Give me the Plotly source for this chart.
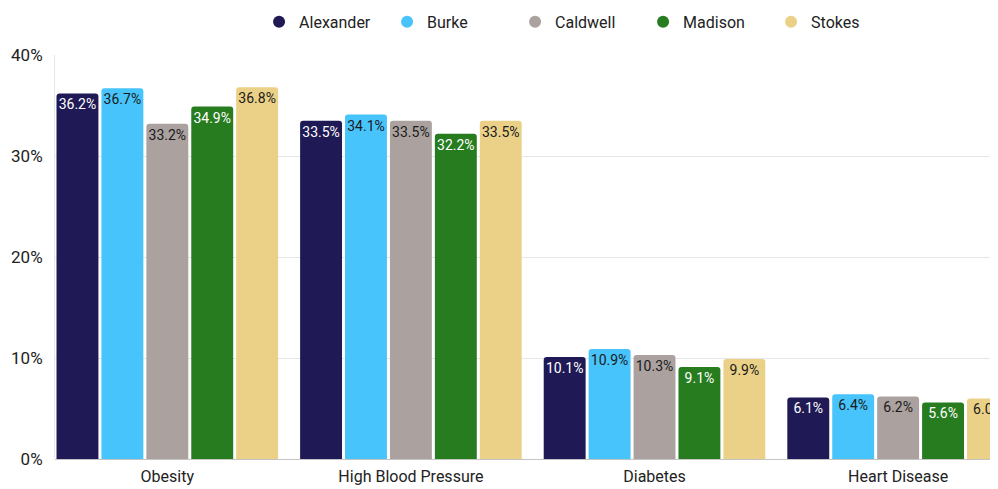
import plotly.graph_objects as go

categories = ["Obesity", "High Blood Pressure", "Diabetes", "Heart Disease"]
series_names = ["Alexander", "Burke", "Caldwell", "Madison", "Stokes"]
alexander = [36.2, 33.5, 10.1, 6.1]
burke = [36.7, 34.1, 10.9, 6.4]
caldwell = [33.2, 33.5, 10.3, 6.2]
madison = [34.9, 32.2, 9.1, 5.6]
stokes = [36.8, 33.5, 9.9, 6.0]
y_ticks = [0, 10, 20, 30, 40]
y_tick_labels = ["0%", "10%", "20%", "30%", "40%"]

values = [alexander, burke, caldwell, madison, stokes]
colors = ["#1f1a55", "#48c4fc", "#aba29f", "#267c1f", "#ebd187"]
text_colors = ["#ffffff", "#1a1a1a", "#1a1a1a", "#ffffff", "#1a1a1a"]

FONT = "Roboto, Liberation Sans, sans-serif"

def f(size, color="#222222"):
    return dict(family=FONT, size=size, color=color)

fig = go.Figure()
xs = list(range(len(categories)))
for name, vals, c, tc in zip(series_names, values, colors, text_colors):
    fig.add_trace(go.Bar(
        name=name, x=xs, y=vals,
        marker=dict(color=c, line=dict(width=0)),
        text=[f"{v:.1f}%" for v in vals],
        textposition="inside", insidetextanchor="end",
        textangle=0, constraintext="none",
        textfont=f(14, tc),
        cliponaxis=True, showlegend=False,
        hovertemplate="%{y:.1f}%<extra>" + name + "</extra>",
    ))
# legend entries with circular markers
for name, c in zip(series_names, colors):
    fig.add_trace(go.Scatter(
        name=name, x=[None], y=[None], mode="markers",
        marker=dict(color=c, size=17, symbol="circle"),
        showlegend=True, hoverinfo="skip",
    ))

fig.update_layout(
    width=990, height=481,
    margin=dict(l=47, r=0, t=47, b=30, autoexpand=False),
    paper_bgcolor="white", plot_bgcolor="white",
    barmode="group", bargap=0.078, bargroupgap=0.067,
    barcornerradius=3,
    font=f(14),
    legend=dict(orientation="h", x=0.2164, xanchor="left", y=1.082, yanchor="middle",
                font=f(16), itemsizing="constant", traceorder="normal",
                itemwidth=30, entrywidth=83, entrywidthmode="pixels"),
    xaxis=dict(range=[-0.461, 3.41], tickvals=xs, ticktext=categories,
               tickfont=f(16), showgrid=False, zeroline=False, showline=False,
               ticks="", ticklabelstandoff=6),
    yaxis=dict(range=[0, 40], tickvals=y_ticks, ticktext=y_tick_labels,
               tickfont=f(17), showgrid=True, gridcolor="#e6e6e6", gridwidth=1,
               zeroline=True, zerolinecolor="#c4c4c4", zerolinewidth=1,
               showline=True, linecolor="#e6e6e6", ticks="",
               ticklabelstandoff=8),
)
fig.write_html("out.html", default_width="990px", default_height="481px")
